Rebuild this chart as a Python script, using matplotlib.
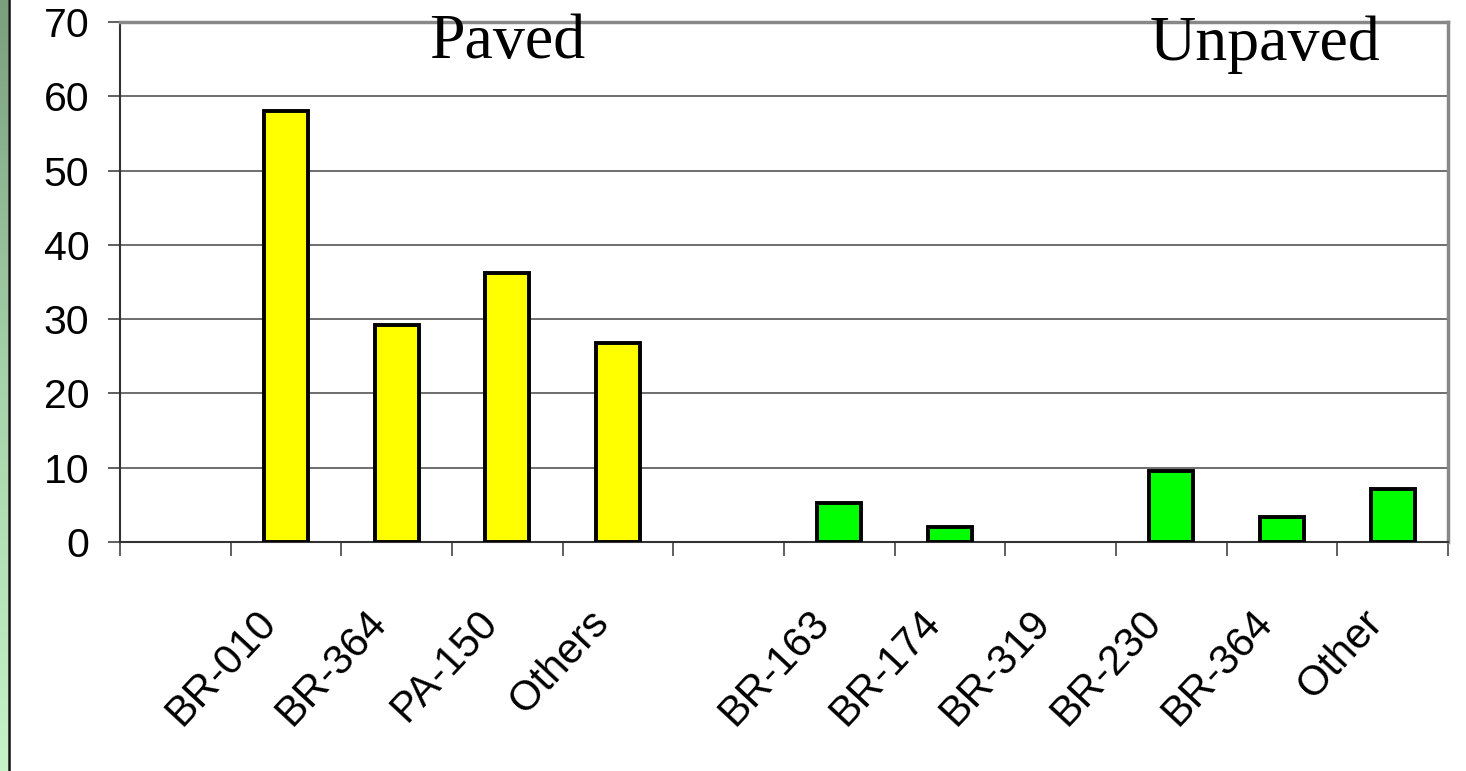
import numpy as np
import matplotlib.pyplot as plt
from matplotlib.colors import LinearSegmentedColormap

# --- Dados ---
categorias = ['', 'BR-010', 'BR-364', 'PA-150', 'Others', '',
              'BR-163', 'BR-174', 'BR-319', 'BR-230', 'BR-364', 'Other']
pavimentadas = [0, 58, 29.2, 36.2, 26.8, 0, 0, 0, 0, 0, 0, 0]
nao_pavimentadas = [0, 0, 0, 0, 0, 0, 5.3, 2.0, 0, 9.6, 3.4, 7.2]
y_ticks = [0, 10, 20, 30, 40, 50, 60, 70]

fig = plt.figure(figsize=(14.66, 7.71), dpi=100)
fig.patch.set_facecolor('white')

# faixa verde na borda esquerda
strip = fig.add_axes([0, 0, 8 / 1466, 1])
grad = np.linspace(0, 1, 256).reshape(-1, 1)
cmap = LinearSegmentedColormap.from_list('faixa', ['#7a9e7e', '#a6d4aa', '#c4f4c8'])
strip.imshow(grad, aspect='auto', cmap=cmap, extent=[0, 1, 0, 1], origin='upper')
strip.axis('off')
fig.add_artist(plt.Line2D([9 / 1466, 9 / 1466], [0, 1], color='#111111', lw=1.8,
                          transform=fig.transFigure))

ax = fig.add_axes([120 / 1466, (771 - 542) / 771, (1448 - 120) / 1466, 520 / 771])
x = np.arange(len(categorias))

ax.bar(x[1:5], pavimentadas[1:5], width=0.4, color='#ffff00', edgecolor='black',
       linewidth=2.8, zorder=3)
mask = [i for i in range(6, 12) if nao_pavimentadas[i] > 0]
ax.bar(x[mask], [nao_pavimentadas[i] for i in mask], width=0.4, color='#00ff00',
       edgecolor='black', linewidth=2.8, zorder=3)

ax.set_xlim(-0.5, len(categorias) - 0.5)
ax.set_ylim(0, 70)
ax.set_yticks(y_ticks)
ax.yaxis.grid(True, color='#555555', linewidth=1.2, zorder=0)
ax.set_axisbelow(True)

# ticks do eixo x nas divisas das categorias
ax.set_xticks(np.arange(-0.5, len(categorias), 1.0))
ax.set_xticklabels([])
ax.tick_params(axis='x', length=10, width=1.2, color='#444444')
ax.tick_params(axis='y', length=9, width=1.2, color='#444444', labelsize=29.5, pad=13)
for lab in ax.get_yticklabels():
    lab.set_fontfamily('Liberation Sans')

for i, nome in enumerate(categorias):
    if nome:
        ax.text(x[i] - 0.28, -8.2, nome, rotation=47, ha='right', va='top',
                rotation_mode='anchor', fontsize=30, family='Liberation Sans')

ax.spines['left'].set_color('#333333')
ax.spines['left'].set_linewidth(1.5)
ax.spines['bottom'].set_color('#333333')
ax.spines['bottom'].set_linewidth(1.5)
ax.spines['top'].set_color('#888888')
ax.spines['top'].set_linewidth(2.5)
ax.spines['right'].set_color('#888888')
ax.spines['right'].set_linewidth(2.5)

ax.text(3.0, 65.1, 'Paved', ha='center', va='baseline', fontsize=46,
        family='Liberation Serif')
ax.text(9.85, 64.9, 'Unpaved', ha='center', va='baseline', fontsize=46,
        family='Liberation Serif')

fig.savefig('out.png', dpi=100, facecolor='white')
